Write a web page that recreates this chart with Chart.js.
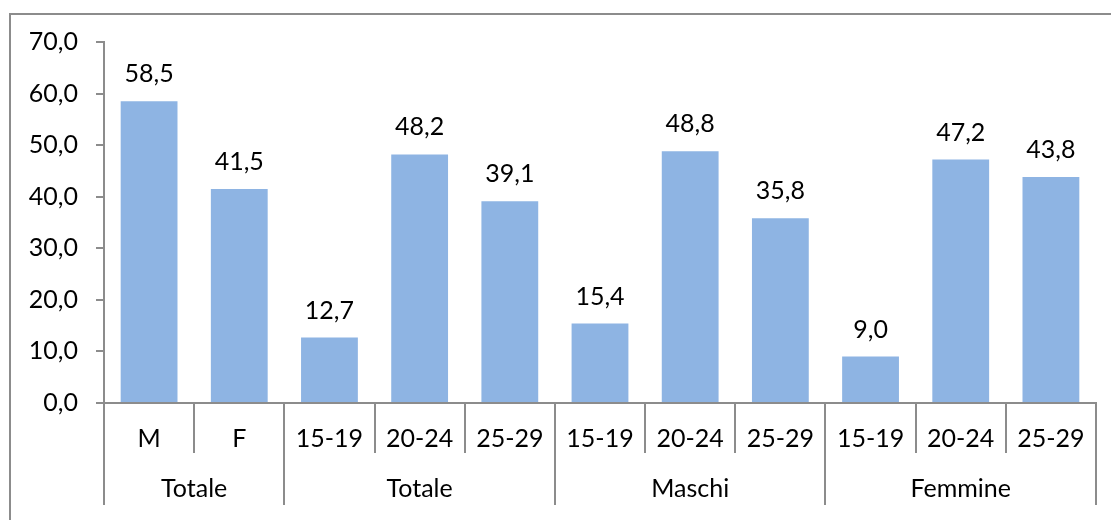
<!DOCTYPE html>
<html>
<head>
<meta charset="utf-8">
<script src="https://cdn.jsdelivr.net/npm/chart.js@4.4.0/dist/chart.umd.min.js"></script>
<style>
  body { margin: 0; background: #fff; overflow: hidden; }
  #wrap { position: relative; width: 1111px; height: 520px; }
  #frame { position: absolute; left: 9px; top: 13px; width: 1200px; height: 600px;
           border-left: 2px solid #8c8c8c; border-top: 2px solid #8c8c8c; }
  canvas { position: absolute; left: 0; top: 0; }
</style>
</head>
<body>
<div id="wrap">
  <div id="frame"></div>
  <canvas id="myChart"></canvas>
</div>
<script>
const categories = ['M', 'F', '15-19', '20-24', '25-29', '15-19', '20-24', '25-29', '15-19', '20-24', '25-29'];
const values = [58.5, 41.5, 12.7, 48.2, 39.1, 15.4, 48.8, 35.8, 9.0, 47.2, 43.8];
const groupLabels = ['Totale', 'Totale', 'Maschi', 'Femmine'];
const groupSizes = [2, 3, 3, 3];
const yTicks = [0, 10, 20, 30, 40, 50, 60, 70];

const FONT = 'Lato, "Noto Sans", sans-serif';
const SIZE = 25;
const AXIS = '#8c8c8c';

function fmt(v) {
  return v.toFixed(1).replace('.', ',');
}

// group boundaries (index of first category after each group)
const groupEnds = [];
let acc = 0;
groupSizes.forEach(s => { acc += s; groupEnds.push(acc); });

const extras = {
  id: 'extras',
  afterDraw(chart) {
    const ctx = chart.ctx;
    const xs = chart.scales.x;
    const area = chart.chartArea;
    const n = categories.length;
    const edge = i => {
      if (i === 0) return area.left;
      if (i === n) return area.right;
      return (xs.getPixelForValue(i - 1) + xs.getPixelForValue(i)) / 2;
    };

    ctx.save();
    ctx.strokeStyle = AXIS;
    ctx.lineWidth = 2;
    for (let i = 0; i <= n; i++) {
      const isGroup = i === 0 || groupEnds.includes(i);
      const x = Math.round(edge(i));
      ctx.beginPath();
      ctx.moveTo(x, area.bottom);
      ctx.lineTo(x, area.bottom + (isGroup ? 102 : 50));
      ctx.stroke();
    }

    // group labels
    ctx.fillStyle = '#000';
    ctx.font = SIZE + 'px ' + FONT;
    ctx.textAlign = 'center';
    ctx.textBaseline = 'alphabetic';
    let start = 0;
    groupLabels.forEach((g, k) => {
      const end = groupEnds[k];
      const cx = (edge(start) + edge(end)) / 2;
      ctx.fillText(g, cx, area.bottom + 94);
      start = end;
    });

    // data labels
    const meta = chart.getDatasetMeta(0);
    meta.data.forEach((bar, i) => {
      ctx.fillText(fmt(values[i]), bar.x, bar.y - 19);
    });
    ctx.restore();
  }
};

const chart = document.getElementById('myChart');

let barchart = new Chart(chart, {
  type: 'bar',
  data: {
    labels: categories,
    datasets: [{
      data: values,
      backgroundColor: '#8eb4e3',
      borderWidth: 0,
      barPercentage: 0.63,
      categoryPercentage: 1
    }]
  },
  options: {
    responsive: true,
    maintainAspectRatio: false,
    animation: false,
    layout: { padding: { left: 0, top: 42, right: 15, bottom: 0 } },
    plugins: {
      legend: { display: false },
      tooltip: { enabled: false }
    },
    scales: {
      x: {
        grid: { display: false, drawTicks: false },
        border: { display: true, color: AXIS, width: 2 },
        ticks: {
          color: '#000',
          font: { family: FONT, size: SIZE },
          autoSkip: false,
          maxRotation: 0,
          padding: 21
        },
        afterFit(scale) { scale.height = 117; }
      },
      y: {
        min: 0,
        max: 70,
        afterBuildTicks(scale) { scale.ticks = yTicks.map(v => ({ value: v })); },
        grid: { drawOnChartArea: false, drawTicks: true, tickLength: 8, color: AXIS, lineWidth: 2 },
        border: { display: true, color: AXIS, width: 2 },
        ticks: {
          color: '#000',
          font: { family: FONT, size: SIZE },
          padding: 18,
          callback: v => fmt(v)
        },
        afterFit(scale) { scale.width = 104; }
      }
    }
  },
  plugins: [extras]
});
</script>
</body>
</html>
